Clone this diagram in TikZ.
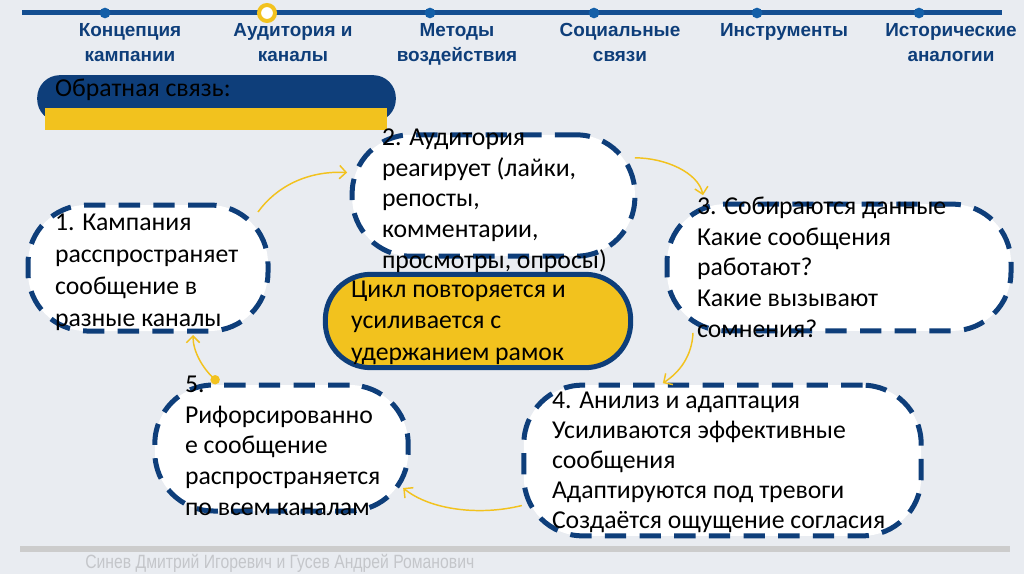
\documentclass[tikz,border=0pt]{standalone}
\usepackage{fontspec}
\setmainfont{Carlito}
\newfontfamily\hdrfont{Liberation Sans}
\newfontfamily\ftrfont[FakeStretch=0.82]{Liberation Sans}
\usetikzlibrary{arrows.meta,calc}
\definecolor{bg}{RGB}{233,236,241}
\definecolor{navy}{RGB}{14,62,122}
\definecolor{tline}{RGB}{20,78,145}
\definecolor{tdot}{RGB}{20,95,168}
\definecolor{yel}{RGB}{242,194,30}
\definecolor{ftbar}{RGB}{204,204,204}
\definecolor{fttext}{RGB}{196,198,202}
\begin{document}
\begin{tikzpicture}[x=0.75pt,y=-0.75pt,
  dbox/.style={draw=navy, line width=3.75pt, dash pattern=on 16pt off 10pt, fill=white, rounded corners=44pt, inner sep=0, outer sep=0},
  body/.style={inner sep=0, outer sep=0, anchor=base west, align=left, text=black},
  hdr/.style={font=\hdrfont\bfseries\fontsize{14.2}{18.75}\selectfont, text=navy, align=center, anchor=base, inner sep=0},
  tdotst/.style={circle, fill=tdot, minimum size=8pt, inner sep=0},
  yarr/.style={draw=yel, line width=1.1pt, -{Straight Barb[length=5pt,width=10pt]}}]

\fill[bg] (0,0) rectangle (1024,574);
\useasboundingbox (0,0) rectangle (1024,574);

% timeline
\draw[tline, line width=3.75pt] (22,13) -- (1002,13);
\node[tdotst] (d1) at (105,13) {};
\node[circle, draw=yel, fill=white, line width=3pt, minimum size=12pt, inner sep=0] (d2) at (267,13) {};
\node[tdotst] (d3) at (430,13) {};
\node[tdotst] (d4) at (594,13) {};
\node[tdotst] (d5) at (757,13) {};
\node[tdotst] (d6) at (919,13) {};

\node[hdr] (h1) at (130,62) {Концепция\\кампании};
\node[hdr] (h2) at (293,62) {Аудитория и\\каналы};
\node[hdr] (h3) at (457,62) {Методы\\воздействия};
\node[hdr] (h4) at (620,62) {Социальные\\связи};
\node[hdr] (h5) at (784,37) {Инструменты};
\node[hdr] (h6) at (951,62) {Исторические\\аналогии};

% banner
\node[fill=navy, rounded corners=17pt, minimum width=269pt, minimum height=35pt, inner sep=0] (bn) at (216.5,98.5) {};
\node[fill=yel, minimum width=256.5pt, minimum height=16.5pt, inner sep=0] (by) at (216,119) {};
\node[body, font=\fontsize{19.3}{22}\selectfont] (bt) at (55,97) {Обратная связь:};

% boxes
\node[dbox, minimum width=180pt, minimum height=94.5pt] (b1) at (148,268) {};
\node[dbox, minimum width=212pt, minimum height=91pt] (b2) at (493.5,195.5) {};
\node[draw=navy, line width=3.75pt, fill=yel, rounded corners=34pt, minimum width=229pt, minimum height=70pt, inner sep=0, outer sep=0] (yb) at (478,321) {};
\node[dbox, minimum width=258pt, minimum height=95pt] (b3) at (839,267.5) {};
\node[dbox, minimum width=298pt, minimum height=113pt] (b4) at (722.5,460.5) {};
\node[dbox, minimum width=190pt, minimum height=94.5pt] (b5) at (281.5,448) {};

% texts (anchored at the baseline of the last line)
\node[body, font=\fontsize{19.3}{24}\selectfont] (t1) at (55,326) {1. Кампания\\расспространяет\\сообщение в\\разные каналы};
\node[body, font=\fontsize{19.3}{22.9}\selectfont] (t2) at (382,268) {2. Аудитория\\реагирует (лайки,\\репосты,\\комментарии,\\просмотры, опросы)};
\node[body, font=\fontsize{19.3}{23.6}\selectfont] (ty) at (351,360) {Цикл повторяется и\\усиливается с\\удержанием рамок};
\node[body, font=\fontsize{19.3}{22.9}\selectfont] (t3) at (697,337) {3. Собираются данные\\Какие сообщения\\работают?\\Какие вызывают\\сомнения?};
\node[body, font=\fontsize{19.3}{22.5}\selectfont] (t4) at (552,528) {4. Анилиз и адаптация\\Усиливаются эффективные\\сообщения\\Адаптируются под тревоги\\Создаётся ощущение согласия};
\node[body, font=\fontsize{19.3}{22.9}\selectfont] (t5) at (185,515) {5.\\Рифорсированно\\е сообщение\\распространяется\\по всем каналам};

% arrows
\draw[yarr] ($(b1.north east)+(-10,7)$) .. controls ($(b1.north east)+(8,-18)$) and ($(b2.west)+(-45,-25)$) .. ($(b2.west)+(-5,-23)$);
\draw[yarr] ($(b2.north east)+(0,23)$) .. controls ($(b2.north east)+(30,23)$) and ($(b3.north west)+(31,-32)$) .. ($(b3.north west)+(36,-9)$);
\draw[yarr] ($(b3.south west)+(26,2)$) .. controls ($(b3.south west)+(25,25)$) and ($(b4.north west)+(156,-13)$) .. ($(b4.north west)+(139,-2)$);
\draw[yarr] ($(b4.west)+(-2,45)$) .. controls ($(b4.west)+(-44,55.5)$) and ($(b5.east)+(22,62)$) .. ($(b5.east)+(-5,40)$);
\draw[yarr, {Circle[length=7pt]}-{Straight Barb[length=5pt,width=10pt]}] ($(b5.north)+(-63,-2)$) .. controls ($(b5.north)+(-78.5,-17)$) and ($(b1.south)+(45,21)$) .. ($(b1.south)+(45,4)$);

% footer
\draw[ftbar, line width=4.5pt] (20,549) -- (1010,549);
\node[anchor=base west, inner sep=0, text=fttext, font=\ftrfont\fontsize{14.4}{16}\selectfont] (ft) at (85,568) {Синев Дмитрий Игоревич и Гусев Андрей Романович};
\end{tikzpicture}
\end{document}
